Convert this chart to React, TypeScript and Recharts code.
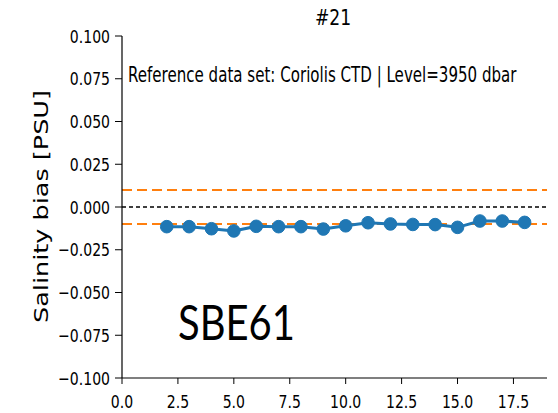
import React from "react"
import {
  LineChart, Line, XAxis, YAxis, ReferenceLine,
} from "recharts"

const cycles = [2, 3, 4, 5, 6, 7, 8, 9, 10, 11, 12, 13, 14, 15, 16, 17, 18]
const bias = [
  -0.0115, -0.0115, -0.0127, -0.014, -0.0113, -0.0115, -0.0115, -0.0129, -0.011,
  -0.0092, -0.0099, -0.0102, -0.0103, -0.0119, -0.0082, -0.0082, -0.009,
]
const xTicks = [0, 2.5, 5, 7.5, 10, 12.5, 15, 17.5]
const yTicks = [-0.1, -0.075, -0.05, -0.025, 0, 0.025, 0.05, 0.075, 0.1]
const limits = [0.01, -0.01]

const data = cycles.map((c, i) => ({ cycle: c, bias: bias[i] }))

const FONT = "DejaVu Sans"
const SQ = 0.78 // the source picture is squeezed horizontally

const fmtY = (v: number) => {
  const s = Math.abs(v).toFixed(3)
  return v < -1e-9 ? "\u2212" + s : s
}

function XTick(props: any) {
  const { x, y, payload } = props
  return (
    <text transform={`translate(${x},${y}) scale(${SQ},1)`} textAnchor="middle" dy={22}
      fontSize={18} fontFamily={FONT} fill="#000">
      {Number(payload.value).toFixed(1)}
    </text>
  )
}

function YTick(props: any) {
  const { x, y, payload } = props
  return (
    <text transform={`translate(${x},${y}) scale(${SQ},1)`} textAnchor="end" dy={6.5}
      fontSize={18} fontFamily={FONT} fill="#000">
      {fmtY(payload.value)}
    </text>
  )
}

const frame = { stroke: "#000", strokeWidth: 1.2 }

export default function App() {
  return (
    <div style={{ position: "absolute", left: 0, top: 0, width: 558, height: 413, background: "#fff" }}>
      <LineChart
        width={558}
        height={413}
        data={data}
        margin={{ top: 36, right: 11, bottom: 5, left: 52 }}
      >
        <XAxis
          xAxisId="b"
          dataKey="cycle"
          type="number"
          domain={[0, 19]}
          ticks={xTicks}
          tick={(p: any) => <XTick {...p} />}
          tickSize={6}
          tickMargin={2}
          axisLine={frame}
          tickLine={{ stroke: "#000" }}
          height={30}
          allowDataOverflow
        />
        <XAxis xAxisId="t" orientation="top" type="number" domain={[0, 19]} tick={false} tickLine={false} height={0}
          axisLine={frame} />
        <YAxis
          yAxisId="l"
          type="number"
          domain={[-0.1, 0.1]}
          ticks={yTicks}
          tick={(p: any) => <YTick {...p} />}
          tickSize={7}
          tickMargin={5}
          width={70}
          axisLine={frame}
          tickLine={{ stroke: "#000" }}
          allowDataOverflow
        />
        <YAxis yAxisId="r" orientation="right" type="number" domain={[-0.1, 0.1]} tick={false} tickLine={false} width={0}
          axisLine={frame} />
        {limits.map((v) => (
          <ReferenceLine key={v} xAxisId="b" yAxisId="l" y={v} stroke="#ff7f0e" strokeWidth={2} strokeDasharray="10 5" />
        ))}
        <ReferenceLine xAxisId="b" yAxisId="l" y={0} stroke="#000" strokeWidth={1.5} strokeDasharray="4 3" />
        <Line
          xAxisId="b"
          yAxisId="l"
          dataKey="bias"
          stroke="#1f77b4"
          strokeWidth={3}
          dot={{ r: 6.3, fill: "#1f77b4", stroke: "#1f77b4", strokeWidth: 1 }}
          isAnimationActive={false}
        />
      </LineChart>
      <svg width={558} height={413} style={{ position: "absolute", left: 0, top: 0, pointerEvents: "none" }}>
        <text transform={`translate(333,25) scale(${SQ},1)`} textAnchor="middle" fontSize={22} fontFamily={FONT}>#21</text>
        <text transform={`translate(128,82) scale(0.685,1)`} fontSize={22} fontFamily={FONT}>
          Reference data set: Coriolis CTD | Level=3950 dbar
        </text>
        <text x={178} y={340} fontSize={48} fontFamily="Lato" textLength={117}
          lengthAdjust="spacingAndGlyphs">SBE61</text>
        <text transform={`translate(48,206.5) scale(${SQ},1) rotate(-90)`} textAnchor="middle" fontSize={26}
          fontFamily={FONT} textLength={233} lengthAdjust="spacingAndGlyphs">Salinity bias [PSU]</text>
      </svg>
    </div>
  )
}
